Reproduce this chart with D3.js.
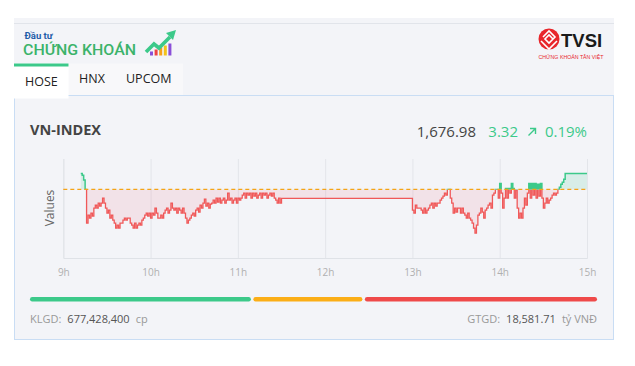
<!DOCTYPE html>
<html><head><meta charset="utf-8">
<script src="https://cdn.jsdelivr.net/npm/d3@7"></script>
<style>
html,body{margin:0;padding:0;background:#fff;}
svg{display:block;font-family:"Open Sans",sans-serif;}
</style></head><body>
<svg id="c" width="635" height="366"></svg>
<script>
// ---------------- DATA ----------------
const indexName = "VN-INDEX";
const lastValue = 1676.98;
const change = 3.32;
const changePct = 0.19;
const refValue = 1673.66;
const volumeText = "677,428,400";
const valueText = "18,581.71";
const tabs = ["HOSE", "HNX", "UPCOM"];
const hourTicks = [9, 10, 11, 12, 13, 14, 15];
const yDomain = [1659.4, 1680];
// minute values from 09:12 to 11:30
const morningStart = [9, 12];
const morning = [
1676.98,1676.63,1675.65,1673.66,1666.67,1668.33,1667.71,1668.74,1668.12,1669.78,
1670.40,1669.78,1670.82,1670.19,1670.82,1671.85,1670.82,1669.78,1668.74,1669.37,
1667.71,1668.33,1667.29,1666.67,1665.63,1666.25,1665.63,1666.67,1666.67,1667.29,
1667.71,1667.29,1667.71,1667.71,1666.67,1666.25,1665.63,1666.67,1665.63,1666.25,
1666.67,1666.25,1667.29,1667.71,1668.33,1668.74,1668.12,1668.74,1667.71,1668.74,
1668.33,1669.78,1668.74,1667.71,1667.71,1668.33,1667.71,1668.74,1669.37,1669.78,
1668.74,1669.37,1670.82,1669.78,1669.37,1669.78,1668.74,1669.78,1669.37,1668.74,
1669.78,1668.74,1667.71,1666.67,1667.29,1667.71,1668.33,1668.74,1668.12,1669.37,
1669.78,1668.95,1670.40,1669.78,1670.82,1671.65,1670.19,1670.82,1669.78,1670.61,
1670.82,1671.44,1670.82,1671.85,1671.02,1671.85,1670.82,1671.44,1671.85,1670.82,
1671.44,1672.89,1671.44,1671.85,1670.82,1671.44,1671.85,1670.82,1671.85,1671.44,
1671.85,1672.48,1672.89,1671.85,1672.89,1672.48,1672.89,1671.85,1672.89,1672.27,
1672.89,1671.85,1672.48,1672.89,1671.85,1672.89,1672.48,1672.89,1671.85,1672.48,
1672.89,1672.27,1672.89,1671.85,1671.44,1670.82,1671.85,1670.82,1671.79
];
// minute values from 13:00 to 14:45
const afternoonStart = [13, 0];
const afternoon = [
1669.37,1668.74,1670.40,1669.78,1669.78,1669.78,1669.37,1668.74,1669.78,1668.74,
1669.37,1669.78,1670.40,1670.82,1669.78,1670.82,1670.19,1670.82,1670.82,1671.44,
1671.85,1672.27,1672.89,1672.48,1673.66,1673.66,1671.85,1670.82,1668.74,1669.78,
1668.95,1669.78,1669.78,1668.74,1669.78,1668.74,1668.33,1667.71,1668.74,1667.71,
1667.29,1666.67,1665.63,1664.59,1666.25,1668.33,1668.74,1669.78,1668.95,1667.71,
1669.37,1669.78,1670.40,1670.82,1669.78,1672.48,1672.89,1673.66,1673.66,1671.85,
1674.90,1672.89,1669.78,1671.85,1673.87,1671.85,1673.87,1672.89,1674.90,1673.87,
1671.85,1673.51,1669.78,1667.71,1668.74,1667.71,1669.78,1671.85,1670.40,1672.89,
1674.90,1671.85,1674.90,1672.48,1674.90,1671.85,1674.76,1672.27,1674.90,1671.85,
1669.78,1670.82,1671.85,1670.82,1671.44,1671.85,1672.48,1672.89,1672.48,1672.89,
1673.66,1674.14,1674.76,1675.17,1675.80,1676.98
];
const barShares = [["#3cc98a", 0.393], ["#fbae17", 0.194], ["#ef4a4a", 0.413]];

// ---------------- BUILD ----------------
const day = (h, m) => new Date(2024, 0, 2, h, m);
const pts = [];
morning.forEach((v, i) => pts.push({t: day(morningStart[0], morningStart[1] + i), v}));
afternoon.forEach((v, i) => pts.push({t: day(afternoonStart[0], afternoonStart[1] + i), v}));
pts.push({t: day(15, 0), v: afternoon[afternoon.length - 1]});

const svg = d3.select("#c");

// page backgrounds
svg.append("rect").attr("x", 14).attr("y", 18).attr("width", 600).attr("height", 322).attr("fill", "#f3f4f8");
svg.append("line").attr("x1", 14).attr("x2", 614).attr("y1", 23.5).attr("y2", 23.5).attr("stroke", "#e1e4ea");

// logo left
svg.append("text").attr("x", 24.5).attr("y", 38.5).attr("font-family", "Roboto, sans-serif").attr("font-weight", 700)
  .attr("font-size", 9.5).attr("fill", "#1f5ca8").text("Đầu tư");
svg.append("text").attr("x", 23).attr("y", 55).attr("font-family", "Roboto, sans-serif").attr("font-weight", 500)
  .attr("font-size", 15).attr("fill", "#3bb36a").attr("textLength", 113).attr("lengthAdjust", "spacingAndGlyphs")
  .text("CHỨNG KHOÁN");
const barCols = ["#8a4fd8", "#ee4444", "#f7a21b", "#f3c31c", "#8a4fd8"];
const barH = [4, 6, 8, 10, 12];
barCols.forEach((c, i) => {
  svg.append("rect").attr("x", 150 + i * 4.6).attr("y", 55.5 - barH[i]).attr("width", 3).attr("height", barH[i]).attr("fill", c);
});
svg.append("path").attr("d", "M146,52 L154,44 L159,48 L170,37").attr("fill", "none").attr("stroke", "#3cc98a")
  .attr("stroke-width", 3.6).attr("stroke-linejoin", "miter");
svg.append("path").attr("d", "M166,33 L176,30 L173,40 Z").attr("fill", "#3cc98a");

// logo right TVSI
svg.append("circle").attr("cx", 549).attr("cy", 39).attr("r", 10.5).attr("fill", "#e8262b");
svg.append("path").attr("d", "M543,37 L549,31 L555,37 L549,43 L545,39 L549,35 L553,39 M541,41 L549,49 L557,41")
  .attr("fill", "none").attr("stroke", "#fff").attr("stroke-width", 1.6);
svg.append("text").attr("x", 561).attr("y", 46.5).attr("font-family", "Liberation Sans, Arial, sans-serif")
  .attr("font-weight", 700).attr("font-size", 18.5).attr("fill", "#1a1a1a").text("TVSI");
svg.append("text").attr("x", 538.5).attr("y", 58.5).attr("font-family", "Liberation Sans, Arial, sans-serif")
  .attr("font-size", 5).attr("fill", "#e8262b").attr("textLength", 65).attr("lengthAdjust", "spacingAndGlyphs")
  .text("CHỨNG KHOÁN TÂN VIỆT");

// card
svg.append("rect").attr("x", 14.5).attr("y", 95.5).attr("width", 599).attr("height", 244).attr("fill", "#f3f4f8")
  .attr("stroke", "#c9ddf4");
// tabs
svg.append("rect").attr("x", 68).attr("y", 63.5).attr("width", 115).attr("height", 31.5).attr("fill", "#f8f8fa");
svg.append("rect").attr("x", 14).attr("y", 63.5).attr("width", 54.5).attr("height", 35).attr("fill", "#ffffff");
svg.append("rect").attr("x", 14).attr("y", 63.5).attr("width", 54.5).attr("height", 3).attr("fill", "#3cc98a");
const tabX = [25, 79, 126], tabY = [86, 83, 83];
tabs.forEach((t, i) => svg.append("text").attr("x", tabX[i]).attr("y", tabY[i]).attr("font-size", 12.5)
  .attr("fill", "#222").text(t));

// header of card
svg.append("text").attr("x", 30).attr("y", 135).attr("font-size", 14.5).attr("font-weight", 700).attr("fill", "#444")
  .text(indexName);
const fmt2 = d3.format(",.2f");
svg.append("text").attr("x", 476).attr("y", 136.5).attr("text-anchor", "end").attr("font-size", 15).attr("fill", "#444")
  .text(fmt2(lastValue));
svg.append("text").attr("x", 518).attr("y", 136.5).attr("text-anchor", "end").attr("font-size", 15).attr("fill", "#3cc98a")
  .text(fmt2(change));
svg.append("path").attr("d", "M528.5,135.5 L535.5,128.5 M530,128.5 L535.5,128.5 L535.5,134").attr("fill", "none")
  .attr("stroke", "#3cc98a").attr("stroke-width", 1.4);
svg.append("text").attr("x", 587).attr("y", 136.5).attr("text-anchor", "end").attr("font-size", 15).attr("fill", "#3cc98a")
  .attr("textLength", 42).text(changePct.toFixed(2) + "%");

// chart
const x0 = 63.3, x1 = 587, yTop = 159, yBot = 258;
const x = d3.scaleTime().domain([day(9, 0), day(15, 0)]).range([x0, x1]);
const y = d3.scaleLinear().domain(yDomain).range([yBot, yTop]);
const g = svg.append("g");

const xAxis = d3.axisBottom(x).tickValues(hourTicks.map(h => day(h, 0))).tickSize(-(yBot - yTop))
  .tickFormat(d => d.getHours() + "h");
const ax = g.append("g").attr("transform", `translate(0,${yBot})`).call(xAxis);
ax.select(".domain").attr("stroke", "#dfe2e7");
ax.selectAll(".tick line").attr("stroke", "#e3e5ea");
ax.selectAll(".tick text").attr("fill", "#b0b0b0").attr("font-size", 10).attr("dy", 0).attr("y", 17.5)
  .attr("font-family", "Open Sans, sans-serif");

svg.append("text").attr("transform", `translate(54,208) rotate(-90)`).attr("text-anchor", "middle")
  .attr("font-size", 12).attr("fill", "#666").text("Values");

const ry = y(refValue);
const defs = svg.append("defs");
defs.append("clipPath").attr("id", "above").append("rect").attr("x", x0).attr("y", yTop - 10).attr("width", x1 - x0 + 2).attr("height", ry - yTop + 10);
defs.append("clipPath").attr("id", "below").append("rect").attr("x", x0).attr("y", ry).attr("width", x1 - x0 + 2).attr("height", yBot - ry + 10);

const area = d3.area().x(d => x(d.t)).y0(ry).y1(d => y(d.v)).curve(d3.curveStepAfter);
const line = d3.line().x(d => x(d.t)).y(d => y(d.v)).curve(d3.curveStepAfter);

g.append("path").attr("d", area(pts)).attr("fill", "rgba(235,80,105,0.11)").attr("clip-path", "url(#below)");
g.append("path").attr("d", area(pts)).attr("fill", "rgba(60,201,138,0.14)").attr("clip-path", "url(#above)");
g.append("path").attr("d", line(pts)).attr("fill", "none").attr("stroke", "#f04848").attr("stroke-width", 1.3)
  .attr("stroke-opacity", 0.9).attr("clip-path", "url(#below)");
g.append("path").attr("d", line(pts)).attr("fill", "none").attr("stroke", "#3cc98a").attr("stroke-width", 1.5)
  .attr("clip-path", "url(#above)");
g.append("line").attr("x1", x0).attr("x2", x1).attr("y1", ry).attr("y2", ry).attr("stroke", "#f5a317")
  .attr("stroke-width", 1.2).attr("stroke-dasharray", "4,3");

// breadth bar
const bx0 = 30, bx1 = 597, gap = 2.5;
let cx = bx0;
const tot = bx1 - bx0 - gap * (barShares.length - 1);
barShares.forEach(([c, s]) => {
  const w = tot * s;
  svg.append("rect").attr("x", cx).attr("y", 297).attr("width", w).attr("height", 4.5).attr("rx", 2.2).attr("fill", c);
  cx += w + gap;
});

// footer texts
const ft = svg.append("text").attr("x", 30).attr("y", 323).attr("font-size", 11).attr("fill", "#999");
ft.append("tspan").text("KLGD:");
ft.append("tspan").attr("dx", 6).attr("fill", "#555").text(volumeText);
ft.append("tspan").attr("dx", 6).text("cp");
const ft2 = svg.append("text").attr("x", 597).attr("y", 323).attr("font-size", 11).attr("fill", "#999").attr("text-anchor", "end");
ft2.append("tspan").text("GTGD:");
ft2.append("tspan").attr("dx", 6).attr("fill", "#555").text(valueText);
ft2.append("tspan").attr("dx", 6).text("tỷ VNĐ");
</script>
</body></html>
